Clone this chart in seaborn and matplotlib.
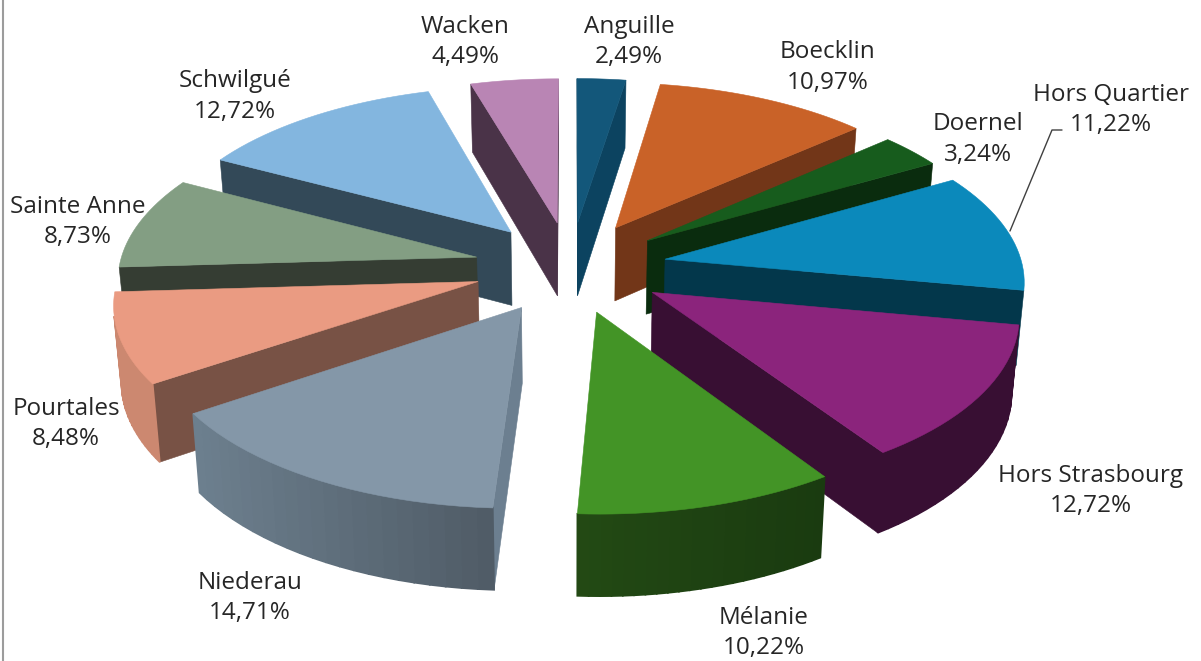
import numpy as np
import seaborn as sns
import matplotlib
matplotlib.use('Agg')
import matplotlib.pyplot as plt

sns.set_theme(style='white')
plt.rcParams['font.family'] = ['Open Sans', 'DejaVu Sans']

# données
quartiers = ['Anguille', 'Boecklin', 'Doernel', 'Hors Quartier', 'Hors Strasbourg', 'Mélanie',
             'Niederau', 'Pourtales', 'Sainte Anne', 'Schwilgué', 'Wacken']
parts = [2.49, 10.97, 3.24, 11.22, 12.72, 10.22, 14.71, 8.48, 8.73, 12.72, 4.49]

# couleurs : dessus, faces coupées, paroi extérieure (gauche -> droite à l'écran)
c_top = ['#13577A', '#C96228', '#175C1D', '#0B89BB', '#8B247C', '#439426',
         '#8497A8', '#EA9B82', '#839E83', '#83B6DF', '#B985B4']
c_cut = ['#0C4360', '#723618', '#0A2C0E', '#03374B', '#380F33', '#1F4512',
         '#6C7F90', '#785245', '#353D33', '#334958', '#4A3348']
c_wall_a = ['#0C4360', '#723618', '#0A2C0E', '#03374B', '#380F33', '#234A14',
            '#6D808F', '#CC8870', '#6F8670', '#6F9BBD', '#9D7199']
c_wall_b = ['#0C4360', '#723618', '#0A2C0E', '#03374B', '#380F33', '#1A3B10',
            '#505C67', '#CC8870', '#6F8670', '#6F9BBD', '#9D7199']

# position des étiquettes (centre x, centre y) en pixels
pos_labels = [(629, 42), (828, 67.5), (978, 139.5), (1111, 110), (1091, 491), (764, 633),
              (250, 598), (66, 424), (78, 222), (235, 96.5), (465, 42)]

# projection du camembert 3D
CX, CY = 570.4, 266.8
BX, AY = 357.5, 169
K = 0.11
EXPLODE = 0.27
DEPTH, K_D = 74.4, 0.074
SHRINK = 0.983


def proj(u, v, bas=False):
    s = 1 / (1 + K * v)
    if bas:
        return CX + BX * u * s * SHRINK, CY - AY * v * s + DEPTH / (1 + K_D * v)
    return CX + BX * u * s, CY - AY * v * s


def aire(pts):
    x, y = np.array(pts).T
    return 0.5 * np.sum(x * np.roll(y, -1) - np.roll(x, -1) * y)


def hex2rgb(c):
    return np.array(matplotlib.colors.to_rgb(c))


def paroi(ax, a, b, couleur, lw=0.4):
    # a et b : points (u, v) du bord haut ; face dessinée seulement si tournée vers nous
    pts = [proj(*a), proj(*b), proj(*b, bas=True), proj(*a, bas=True)]
    if aire(pts) < 0:
        x, y = zip(*pts)
        ax.fill(x, y, color=couleur, lw=lw, zorder=2)


fig = plt.figure(figsize=(12.01, 6.61), dpi=100)
ax = fig.add_axes([0, 0, 1, 1])
ax.set_xlim(0, 1201)
ax.set_ylim(661, 0)
ax.axis('off')

total = sum(parts)
bornes = np.cumsum([0] + parts) / total * 2 * np.pi
milieux = (bornes[:-1] + bornes[1:]) / 2

# on dessine de l'arrière vers l'avant
for i in np.argsort(-np.cos(milieux)):
    t0, t1 = bornes[i], bornes[i + 1]
    ox, oy = EXPLODE * np.sin(milieux[i]), EXPLODE * np.cos(milieux[i])
    ts = np.linspace(t0, t1, 24)
    bord = [(ox + np.sin(t), oy + np.cos(t)) for t in ts]
    pointe = (ox, oy)

    paroi(ax, pointe, bord[0], c_cut[i])
    paroi(ax, bord[-1], pointe, c_cut[i])
    xs = [proj(*p)[0] for p in bord]
    for j in range(len(bord) - 1):
        f = (xs[j] - min(xs)) / max(max(xs) - min(xs), 1)
        coul = hex2rgb(c_wall_a[i]) * (1 - f) + hex2rgb(c_wall_b[i]) * f
        paroi(ax, bord[j], bord[j + 1], coul, lw=1.2)

    x, y = zip(*[proj(*p) for p in [pointe] + bord])
    ax.fill(x, y, color=c_top[i], lw=0.4, zorder=2)

for nom, val, (px, py) in zip(quartiers, parts, pos_labels):
    txt = nom + '\n' + f'{val:.2f}'.replace('.', ',') + '%'
    ax.text(px, py, txt, ha='center', va='center', fontsize=17.5, color='#262626',
            linespacing=1.38, zorder=5)

# trait de rappel Hors Quartier et bord du cadre
ax.plot([1010, 1052, 1062], [231, 130, 130], color='#404040', lw=1, zorder=4)
ax.axvline(2.5, color='#9C9C9C', lw=1.5, zorder=1)

fig.savefig('out.png', dpi=100)
